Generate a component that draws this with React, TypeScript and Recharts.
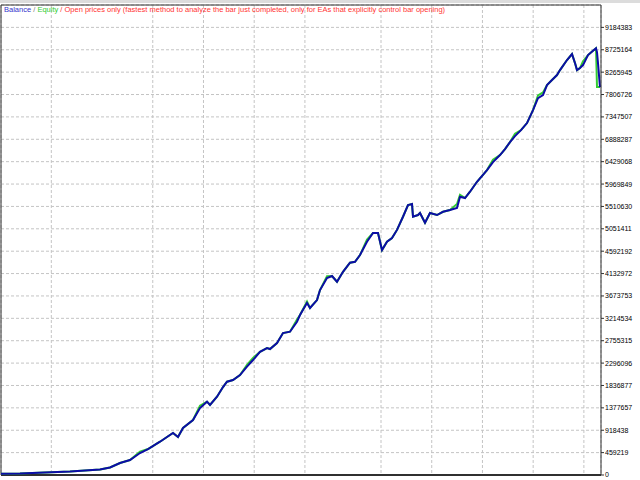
import React from 'react';
import { LineChart, Line, XAxis, YAxis, CartesianGrid, ReferenceLine } from 'recharts';

// x position along the test (trade index scaled to 0..600)
const tradeX = [
  0, 19, 44, 69, 99, 109, 119, 124, 129, 139, 147, 159, 166, 172, 177, 182, 192, 199, 206, 209,
  216, 222, 226, 232, 239, 246, 252, 259, 266, 269, 276, 282, 289, 296, 299, 306, 309, 316, 319, 326,
  331, 336, 342, 349, 354, 359, 366, 372, 377, 381, 386, 391, 396, 402, 407, 411, 412, 417, 419, 424,
  429, 436, 442, 449, 456, 459, 464, 469, 476, 486, 492, 499, 504, 509, 514, 520, 526, 532, 537, 542,
  546, 551, 556, 559, 566, 571, 574, 576, 579, 582, 587, 592, 595, 596, 597, 599,
];

const balance = [
  25000, 31000, 51000, 72000, 113000, 154000, 246000, 277000, 308000, 451000, 533000, 683000, 780000, 862000, 780000, 964000, 1128000, 1374000, 1504000, 1436000,
  1606000, 1805000, 1914000, 1949000, 2051000, 2222000, 2359000, 2529000, 2605000, 2585000, 2708000, 2913000, 2940000, 3145000, 3282000, 3528000, 3426000, 3590000, 3795000, 4041000,
  4082000, 3965000, 4170000, 4355000, 4376000, 4513000, 4786000, 4965000, 4965000, 4616000, 4786000, 4862000, 5029000, 5299000, 5539000, 5560000, 5299000, 5334000, 5375000, 5176000,
  5375000, 5334000, 5401000, 5436000, 5477000, 5709000, 5683000, 5812000, 6017000, 6257000, 6421000, 6565000, 6688000, 6831000, 6954000, 7077000, 7221000, 7488000, 7734000, 7796000,
  8001000, 8104000, 8206000, 8308000, 8514000, 8637000, 8452000, 8308000, 8350000, 8411000, 8616000, 8704000, 8754000, 8677000, 8452000, 7960000,
];

const equity = [
  25000, 31000, 51000, 72000, 113000, 154000, 246000, 277000, 308000, 480000, 533000, 683000, 780000, 862000, 780000, 964000, 1128000, 1420000, 1504000, 1436000,
  1606000, 1805000, 1914000, 1949000, 2051000, 2262000, 2400000, 2529000, 2605000, 2585000, 2708000, 2913000, 2940000, 3190000, 3282000, 3560000, 3426000, 3590000, 3795000, 4080000,
  4082000, 3965000, 4170000, 4355000, 4376000, 4513000, 4830000, 4965000, 4965000, 4616000, 4786000, 4862000, 5029000, 5299000, 5539000, 5560000, 5299000, 5334000, 5375000, 5176000,
  5375000, 5334000, 5401000, 5436000, 5560000, 5750000, 5683000, 5812000, 6017000, 6257000, 6470000, 6565000, 6688000, 6831000, 7000000, 7077000, 7221000, 7488000, 7790000, 7850000,
  8001000, 8104000, 8206000, 8308000, 8514000, 8637000, 8452000, 8308000, 8350000, 8490000, 8616000, 8704000, 8754000, 7960000, 7960000, 7960000,
];

const yTickLabels = [
  '0', '459219', '918438', '1377657', '1836877', '2296096', '2755315', '3214534', '3673753', '4132972',
  '4592192', '5051411', '5510630', '5969849', '6429068', '6888287', '7347507', '7806726', '8265945', '8725164', '9184383',
];

const yTicks = yTickLabels.map(Number);
const yMax = 9643602;
const xMax = 600;
// MT4 draws vertical grid at a fixed spacing from the left edge
const xGridStep = 25.36;
const xTicks = Array.from({ length: 23 }, (_, i) => (i + 1) * xGridStep - 0.4);

const data = tradeX.map((x, i) => ({ x, balance: balance[i], equity: equity[i] }));

const FONT = '"Liberation Sans", Arial, sans-serif';
const BORDER = '#303030';

export default function App() {
  return (
    <div style={{ position: 'absolute', left: 0, top: 0, width: 640, height: 480, background: '#fff', overflow: 'hidden' }}>
      <div style={{ position: 'absolute', left: 0, top: 0, width: 640, height: 3, background: '#dcdcdc' }} />
      <LineChart
        width={640}
        height={480}
        data={data}
        margin={{ top: 5, right: 0, bottom: 5, left: 1 }}
        style={{ position: 'absolute', left: 0, top: 0 }}
      >
        <CartesianGrid stroke="#c4c4c4" strokeDasharray="3 2" />
        <XAxis dataKey="x" type="number" domain={[0, xMax]} ticks={xTicks} hide allowDataOverflow />
        <YAxis
          orientation="right"
          type="number"
          domain={[0, yMax]}
          ticks={yTicks}
          interval={0}
          width={39}
          tickSize={3}
          tickMargin={1}
          axisLine={{ stroke: BORDER }}
          tickLine={{ stroke: BORDER }}
          tick={{ fill: '#000', fontSize: 7, fontFamily: FONT }}
          allowDataOverflow
        />
        <ReferenceLine x={0} stroke={BORDER} ifOverflow="visible" />
        <ReferenceLine y={yMax} stroke={BORDER} ifOverflow="visible" />
        <ReferenceLine y={0} stroke={BORDER} strokeWidth={2} ifOverflow="visible" />
        <Line type="linear" dataKey="equity" stroke="#33cc33" strokeWidth={2} dot={false} isAnimationActive={false} />
        <Line type="linear" dataKey="balance" stroke="#0c0ca6" strokeWidth={2} dot={false} isAnimationActive={false} />
      </LineChart>
      <div style={{ position: 'absolute', left: 4, top: 6, fontSize: 7.5, fontFamily: FONT, whiteSpace: 'nowrap', lineHeight: '8px' }}>
        <span style={{ color: '#3333cc' }}>Balance</span>
        <span style={{ color: '#808080' }}> / </span>
        <span style={{ color: '#33cc33' }}>Equity</span>
        <span style={{ color: '#ff3333' }}> / Open prices only (fastest method to analyze the bar just completed, only for EAs that explicitly control bar opening)</span>
      </div>
    </div>
  );
}
